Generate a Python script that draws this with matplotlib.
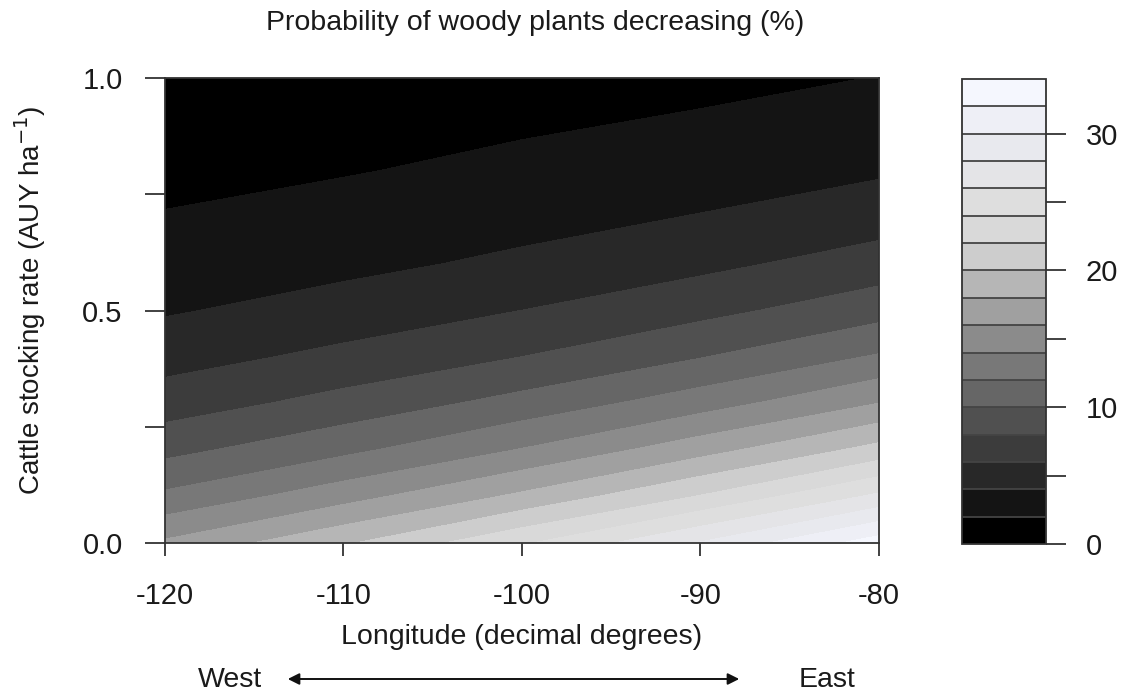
import matplotlib.pyplot as plt
import numpy as np
from matplotlib.patches import FancyArrowPatch

plt.rcParams['font.family'] = ['Liberation Sans', 'DejaVu Sans']

# grid: probability (%) at each longitude, by stocking rate
longitude = [-120, -110, -100, -90, -80]
stocking = [0.0, 0.1, 0.2, 0.3, 0.4, 0.5, 0.6, 0.7, 0.8, 0.9, 1.0]
p_w120 = [16.3, 12.4, 9.4, 7.0, 5.2, 3.8, 2.8, 2.1, 1.5, 1.1, 0.8]
p_w110 = [19.7, 15.2, 11.5, 8.7, 6.5, 4.8, 3.5, 2.6, 1.9, 1.4, 1.0]
p_w100 = [23.7, 18.4, 14.1, 10.7, 8.0, 6.0, 4.4, 3.3, 2.4, 1.8, 1.3]
p_w90 = [28.1, 22.1, 17.2, 13.1, 9.9, 7.4, 5.5, 4.1, 3.0, 2.2, 1.6]
p_w80 = [33.0, 26.4, 20.7, 16.0, 12.2, 9.2, 6.9, 5.1, 3.75, 2.8, 2.03]

levels = list(range(0, 36, 2))
band_colors = ['#000000', '#141414', '#282828', '#3c3c3c', '#505050', '#666666',
               '#787878', '#8b8b8b', '#a0a0a0', '#b6b6b6', '#cdcdcd', '#d9d9d9',
               '#dedede', '#e4e4e7', '#e8e9ee', '#eeeff6', '#f5f7fe']

z = np.column_stack([p_w120, p_w110, p_w100, p_w90, p_w80])

W, H = 1124, 696
txt = '#1a1a1a'
fig = plt.figure(figsize=(W / 100, H / 100), dpi=100)
ax = fig.add_axes([165 / W, (H - 543) / H, (879 - 165) / W, (543 - 78) / H])
cax = fig.add_axes([962 / W, (H - 544) / H, (1046 - 962) / W, (544 - 79) / H])

cs = ax.contourf(longitude, stocking, z, levels=levels, colors=band_colors)
cs.set_edgecolor('face')
cs.set_linewidth(0.4)

ax.set_xlim(-120, -80)
ax.set_ylim(0, 1)
for s in ax.spines.values():
    s.set_color('#333333')
    s.set_linewidth(1.3)

ax.set_xticks([-120, -110, -100, -90, -80])
ax.set_xticklabels(['-120', '-110', '-100', '-90', '-80'])
ax.set_yticks([0, 0.25, 0.5, 0.75, 1.0])
ax.set_yticklabels(['0.0', '', '0.5', '', '1.0'])
ax.tick_params(axis='x', length=9, width=1.3, color='#333333', pad=19,
               labelsize=21, labelcolor=txt)
ax.tick_params(axis='y', length=14.5, width=1.3, color='#333333', pad=16,
               labelsize=21, labelcolor=txt)

cb = fig.colorbar(cs, cax=cax, drawedges=True)
cb.outline.set_edgecolor('#333333')
cb.outline.set_linewidth(1.3)
cb.dividers.set_color('#444444')
cb.dividers.set_linewidth(1.3)
cb.set_ticks([0, 5, 10, 15, 20, 25, 30])
cb.set_ticklabels(['0', '', '10', '', '20', '', '30'])
cax.tick_params(length=14.5, width=1.3, color='#333333', pad=14,
                labelsize=21, labelcolor=txt)
cax.minorticks_off()

fig.text(535 / W, 1 - 23 / H, 'Probability of woody plants decreasing (%)',
         ha='center', va='center', fontsize=20.5, color=txt)
fig.text(522 / W, 1 - 637 / H, 'Longitude (decimal degrees)',
         ha='center', va='center', fontsize=20.5, color=txt)
fig.text(30 / W, 1 - 300 / H, 'Cattle stocking rate (AUY ha$^{-1}$)',
         ha='center', va='center', rotation=90, fontsize=20, color=txt)

fig.text(230 / W, 1 - 680 / H, 'West', ha='center', va='center',
         fontsize=20.5, color=txt)
fig.text(827 / W, 1 - 680 / H, 'East', ha='center', va='center',
         fontsize=20.5, color=txt)
arrow = FancyArrowPatch((285 / W, 1 - 679 / H), (742 / W, 1 - 679 / H),
                        transform=fig.transFigure, arrowstyle='<|-|>',
                        mutation_scale=17, linewidth=1.4, color='#111111')
fig.patches.append(arrow)

fig.savefig('out.png', dpi=100)
